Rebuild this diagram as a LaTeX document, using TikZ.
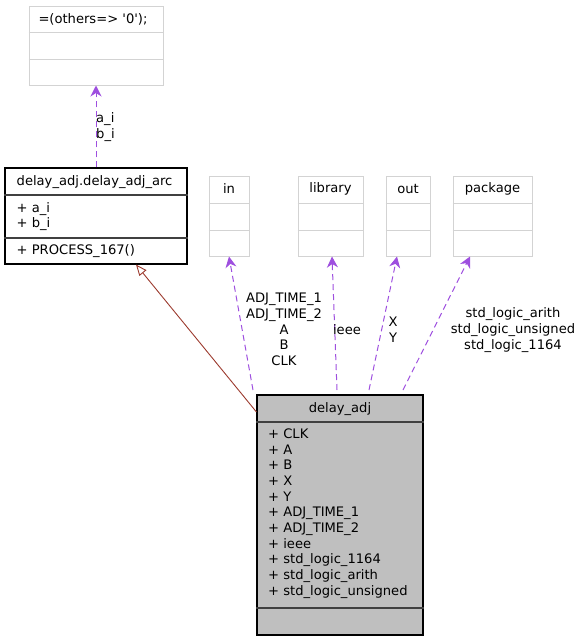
\documentclass[tikz,border=0pt]{standalone}
\usepackage{fontspec}
\setmainfont{DejaVu Sans}
\usetikzlibrary{arrows.meta}
\definecolor{usecol}{HTML}{9E4FDF}
\definecolor{inhcol}{HTML}{9C3A2E}
\definecolor{boxgrey}{HTML}{D3D3D3}
\definecolor{maingrey}{HTML}{BFBFBF}
\begin{document}
\begin{tikzpicture}[x=1pt,y=-1pt,
    every node/.style={font=\fontsize{13.1}{15.7}\selectfont, inner sep=0pt},
    greybox/.style={draw=boxgrey, line width=1pt, fill=white},
    greysep/.style={draw=boxgrey, line width=1pt},
    classbox/.style={draw=black, line width=1.1pt},
    classsep/.style={draw=black!75, line width=1.5pt},
    uses/.style={usecol, line width=1pt, dash pattern=on 6pt off 4pt,
        -{Stealth[length=11pt,width=11pt,inset=3.5pt]}},
    inherits/.style={inhcol, line width=0.9pt,
        -{Triangle[open,length=11pt,width=9pt,fill=white]}}]
    \useasboundingbox (0,0) rectangle (584,643);
    % the classes used by delay_adj
    \node[greybox, minimum width=134, minimum height=79] (others) at (96,45.5) {};
    \draw[greysep] (others.west |- 0,32) -- (others.east |- 0,32);
    \draw[greysep] (others.west |- 0,59) -- (others.east |- 0,59);
    \node (othersname) at (93,19) {=(others=> \textquotesingle0\textquotesingle);};
    \node[greybox, minimum width=40, minimum height=80] (inbox) at (229,216) {};
    \node[greybox, minimum width=65, minimum height=80] (libbox) at (330.5,216) {};
    \node[greybox, minimum width=44, minimum height=80] (outbox) at (408,216) {};
    \node[greybox, minimum width=79, minimum height=80] (pkgbox) at (492.5,216) {};
    \foreach \b in {inbox,libbox,outbox,pkgbox} {
        \draw[greysep] (\b.west |- 0,203) -- (\b.east |- 0,203);
        \draw[greysep] (\b.west |- 0,230) -- (\b.east |- 0,230);
    }
    \node (inname) at (229,189) {in};
    \node (libname) at (330.5,189) {library};
    \node (outname) at (408,189) {out};
    \node (pkgname) at (492.5,189) {package};
    % the architecture
    \node[classbox, minimum width=182, minimum height=96] (arc) at (96,216) {};
    \draw[classsep] (arc.west |- 0,195) -- (arc.east |- 0,195);
    \draw[classsep] (arc.west |- 0,238) -- (arc.east |- 0,238);
    \node[anchor=west] (arcname) at (16.5,182) {delay\_adj.delay\_adj\_arc};
    \node[anchor=west, align=left] (arcattr) at (16.5,216.5) {+ a\_i\\+ b\_i};
    \node[anchor=west] (arcproc) at (16.5,251) {+ PROCESS\_167()};
    % the entity
    \node[classbox, fill=maingrey, minimum width=166, minimum height=240] (dadj) at (340,515) {};
    \draw[classsep] (dadj.west |- 0,422) -- (dadj.east |- 0,422);
    \draw[classsep] (dadj.west |- 0,608) -- (dadj.east |- 0,608);
    \node (dadjname) at (340,409) {delay\_adj};
    \node[anchor=west, align=left] (dadjattr) at (268,513.5) {+ CLK\\+ A\\+ B\\+ X\\+ Y\\+ ADJ\_TIME\_1\\+ ADJ\_TIME\_2\\+ ieee\\+ std\_logic\_1164\\+ std\_logic\_arith\\+ std\_logic\_unsigned};
    % connectors
    \coordinate (inTail) at (253,390);
    \coordinate (libTail) at (337,390);
    \coordinate (outTail) at (369,390);
    \coordinate (pkgTail) at (403,390);
    \draw[uses] (arc.north) -- (others.south);
    \draw[uses] (inTail) -- (inbox.south);
    \draw[uses] (libTail) -- (libbox.south -| 332,0);
    \draw[uses] (outTail) -- (outbox.south -| 397,0);
    \draw[uses] (pkgTail) -- (pkgbox.south -| 470,0);
    \draw[inherits] (dadj.west |- 0,412) -- (arc.south -| 136,0);
    % labels
    \node[anchor=west, align=left] (arclabel) at (96,127) {a\_i\\b\_i};
    \node[align=center] (inlabel) at (284,329.5) {ADJ\_TIME\_1\\ADJ\_TIME\_2\\A\\B\\CLK};
    \node (liblabel) at (347,330) {ieee};
    \node[align=center] (outlabel) at (393,330) {X\\Y};
    \node[align=center] (pkglabel) at (513,330) {std\_logic\_arith\\std\_logic\_unsigned\\std\_logic\_1164};
\end{tikzpicture}
\end{document}
